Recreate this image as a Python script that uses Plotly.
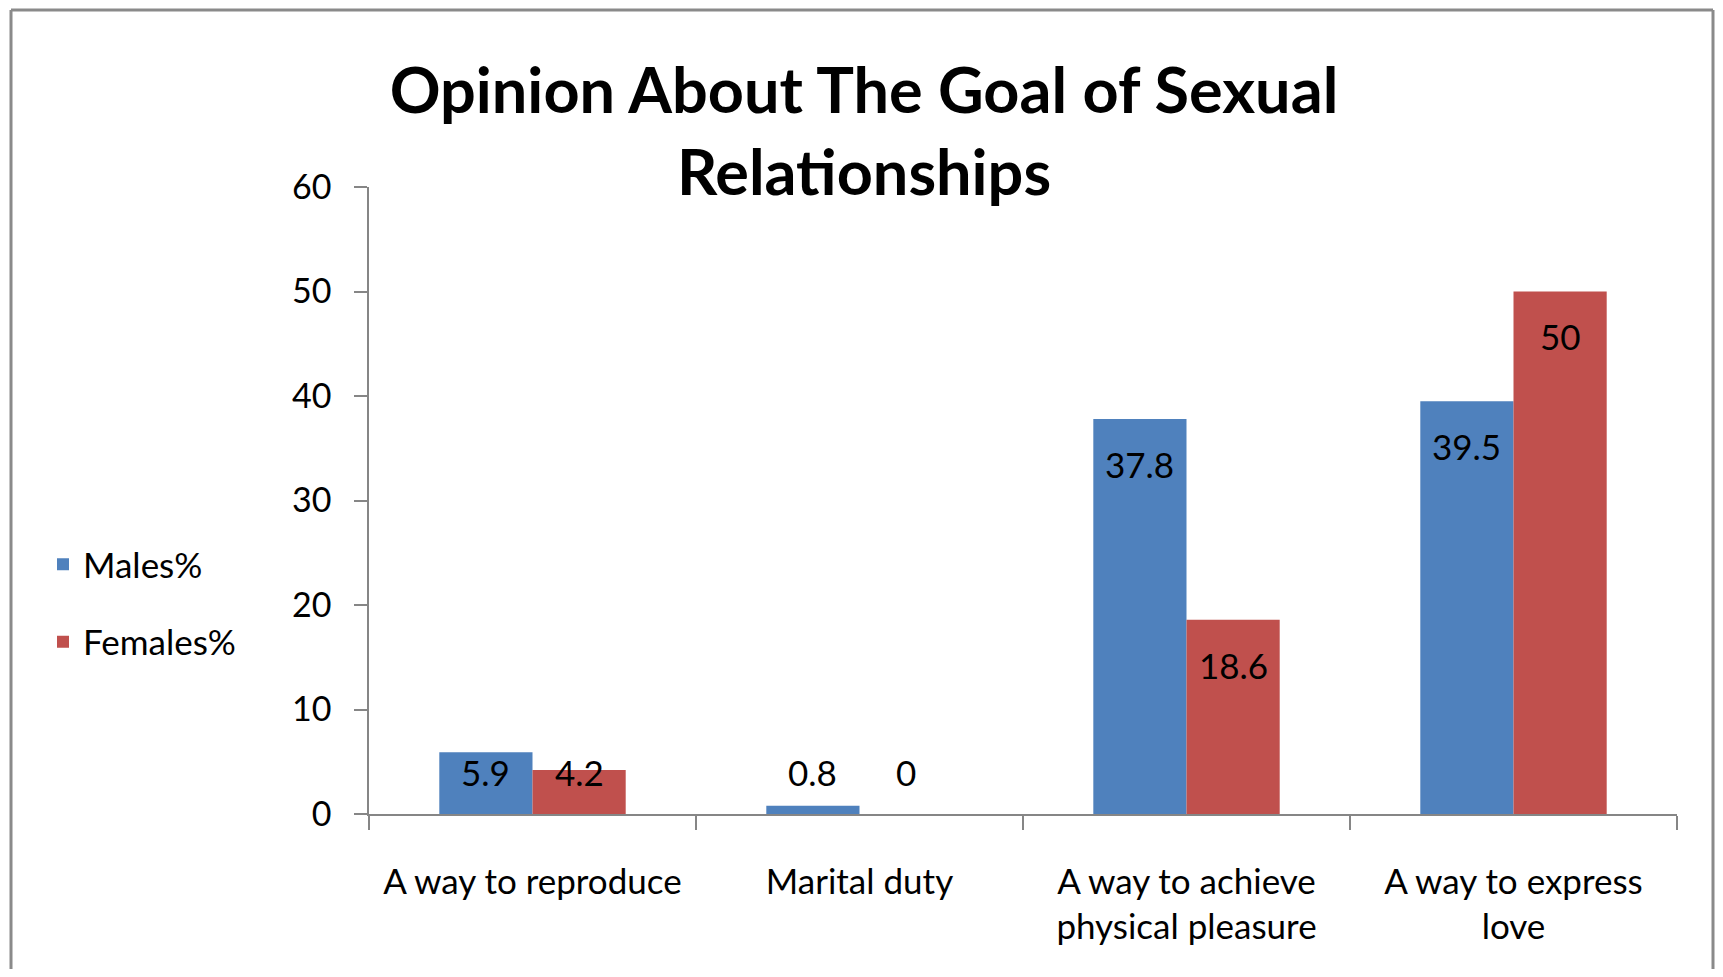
import plotly.graph_objects as go

categories = ["A way to reproduce", "Marital duty",
              "A way to achieve<br>physical pleasure", "A way to express<br>love"]
males = [5.9, 0.8, 37.8, 39.5]
females = [4.2, 0, 18.6, 50]
y_ticks = [0, 10, 20, 30, 40, 50, 60]

BLUE = "#4F81BD"
RED = "#C0504D"
FONT = "Lato"

OFF = 8  # page body margin
W, H = 1723 - 2 * OFF, 977 - 2 * OFF
# plot area in page pixels: x 369..1677, y 187..814
ML = 369 - OFF
MT = 187 - OFF
MR = W - (1677 - OFF)
MB = H - (814 - OFF)
plot_w = W - ML - MR
plot_h = H - MT - MB
BARGAP = 0.43
bar_px = plot_w / len(categories) * (1 - BARGAP) / 2


def px_to_paper_x(px):  # px in page coords
    return (px - OFF - ML) / plot_w


def px_to_paper_y(py):
    return (H - MB - (py - OFF)) / plot_h


fig = go.Figure()
fig.add_trace(go.Bar(name="Males%", x=categories, y=males, marker_color=BLUE,
                     marker_line_width=0, legendgroup="m"))
fig.add_trace(go.Bar(name="Females%", x=categories, y=females, marker_color=RED,
                     marker_line_width=0, legendgroup="f"))

# data labels (inside end, clamped near the baseline for short bars)
drop = 4.3
floor = 4.0
for vals, sign in ((males, -1), (females, 1)):
    for c, v in zip(categories, vals):
        fig.add_annotation(x=c, y=max(v - drop, floor), xref="x", yref="y",
                           text=f"{v:g}", showarrow=False,
                           xshift=sign * bar_px / 2,
                           font=dict(family=FONT, size=35, color="#000"))

# outer chart border: left, top and right edges (bottom lies off-page)
bx0, bx1 = px_to_paper_x(11), px_to_paper_x(OFF + W - 2)
by_top, by_bot = px_to_paper_y(OFF + 2), px_to_paper_y(OFF + H)
border = dict(color="#8a8a8a", width=3)
for x0, y0, x1, y1 in ((bx0, by_bot, bx0, by_top), (bx0, by_top, bx1, by_top),
                       (bx1, by_top, bx1, by_bot)):
    fig.add_shape(type="line", xref="paper", yref="paper",
                  x0=x0, y0=y0, x1=x1, y1=y1, line=border, layer="below")

fig.update_layout(
    width=W, height=H,
    margin=dict(l=ML, r=MR, t=MT, b=MB, autoexpand=False),
    paper_bgcolor="white", plot_bgcolor="white",
    barmode="group", bargap=BARGAP, bargroupgap=0,
    title=dict(text="<b>Opinion About The Goal of Sexual<br>Relationships</b>",
               x=px_to_paper_x(864), xref="paper", xanchor="center",
               y=1 - 105 / H, yref="container", yanchor="middle",
               font=dict(family=FONT, size=63, color="#000")),
    font=dict(family=FONT, size=35, color="#000"),
    showlegend=True,
    legend=dict(x=px_to_paper_x(43), xanchor="left", y=px_to_paper_y(603),
                yanchor="middle", tracegroupgap=29,
                font=dict(family=FONT, size=35, color="#000"),
                itemwidth=30, bgcolor="rgba(0,0,0,0)"),
)
fig.update_xaxes(showline=True, linecolor="#868686", linewidth=1.5,
                 ticks="outside", tickson="boundaries", ticklen=14,
                 tickcolor="#868686", tickwidth=1.5, showgrid=False,
                 tickfont=dict(family=FONT, size=35, color="#000"),
                 ticklabelstandoff=36)
fig.update_yaxes(range=[0, 60], tickvals=y_ticks, showline=True,
                 linecolor="#868686", linewidth=1.5, ticks="outside",
                 ticklen=13, tickcolor="#868686", tickwidth=1.5,
                 showgrid=False, zeroline=False,
                 tickfont=dict(family=FONT, size=34, color="#000"),
                 ticklabelstandoff=16)

fig.write_html("out.html")
